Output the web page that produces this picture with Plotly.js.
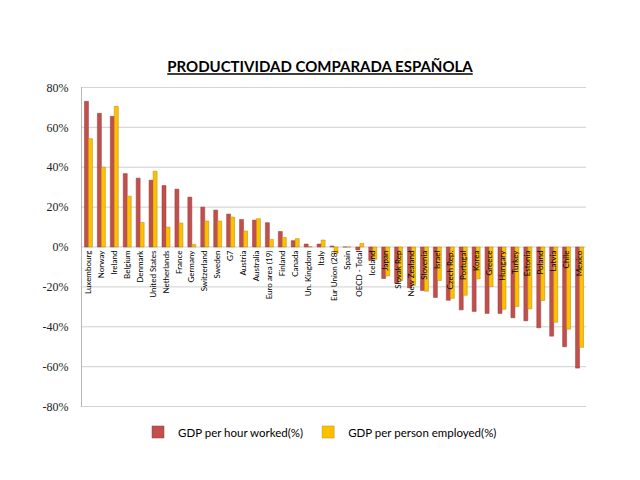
<!DOCTYPE html>
<html>
<head>
<meta charset="utf-8">
<script src="https://cdn.plot.ly/plotly-3.0.1.min.js"></script>
<style>html,body{margin:0;padding:0;background:#fff;}#chart{width:640px;height:480px;}</style>
</head>
<body>
<div id="chart"></div>
<script>
const countries = ["Luxembourg","Norway","Ireland","Belgium","Denmark","United States","Netherlands","France","Germany","Switzerland","Sweden","G7","Austria","Australia","Euro area (19)","Finland","Canada","Un. Kingdom","Italy","Eur Union (28)","Spain","OECD - Total","Iceland","Japan","Slovak Rep","New Zealand","Slovenia","Israel","Czech Rep.","Portugal","Korea","Greece","Hungary","Turkey","Estonia","Poland","Latvia","Chile","Mexico"];
const gdpPerHour = [73, 67, 65.5, 36.8, 34.5, 33.5, 30.8, 29, 25, 20, 18.5, 16.5, 13.8, 13.5, 12.2, 7.8, 3.2, 1.5, 1.5, 0.5, 0, -1.5, -6.8, -15.8, -18.2, -20.5, -21.8, -25.3, -26.7, -31.5, -32.3, -33.3, -33.3, -35.5, -37, -40.5, -44.7, -50, -60.7];
const gdpPerPerson = [54.3, 40, 70.5, 25.5, 12.3, 38, 10, 12, 1.3, 13, 13, 15, 8, 14.2, 3.8, 4.8, 4.2, 0.2, 3.5, -3.2, 0, 1.8, -6.2, -14.5, -16.8, -19.2, -22.2, -16.8, -25.7, -24.2, -16, -19.8, -31.2, -29.8, -31, -26.8, -37.7, -41.2, -50.3];
const yTicks = [-80, -60, -40, -20, 0, 20, 40, 60, 80];
const yTickText = yTicks.map(v => v + "%");

const traces = [
  {type: "bar", name: "GDP per hour worked(%)", x: countries, y: gdpPerHour,
   marker: {color: "#C0504D", line: {color: "#9b3a38", width: 0.5}}, hoverinfo: "skip"},
  {type: "bar", name: "GDP per person employed(%)", x: countries, y: gdpPerPerson,
   marker: {color: "#FFC000", line: {color: "#b08a10", width: 0.5}}, hoverinfo: "skip"}
];

const gridShapes = yTicks.map(v => ({type: "line", xref: "paper", yref: "y", x0: 0, x1: 1, y0: v, y1: v,
  line: {color: "#cfcfcf", width: 1}, layer: "below"}));

const layout = {
  width: 640, height: 480,
  paper_bgcolor: "#fff", plot_bgcolor: "#fff",
  margin: {l: 82, r: 54, t: 87, b: 73, pad: 0},
  title: {text: "<b><u>PRODUCTIVIDAD COMPARADA ESPAÑOLA</u></b>", font: {family: "Lato", size: 15, color: "#000"},
          x: 0.5, xanchor: "center", xref: "container", y: 1 - 67/480, yanchor: "middle", yref: "container"},
  barmode: "group", bargap: 0.38, bargroupgap: 0,
  showlegend: true,
  legend: {orientation: "h", x: 0.5, xanchor: "center", xref: "container", y: 1 - 432/480, yanchor: "middle", yref: "container",
           font: {family: "Lato", size: 11.5, color: "#000"}, itemwidth: 30, traceorder: "normal"},
  shapes: gridShapes,
  xaxis: {anchor: "free", position: 0.5, type: "category", tickangle: -90, showgrid: false, showline: false,
          ticks: "", tickfont: {family: "Lato", size: 8, color: "#000"}, ticklabelstandoff: 1, layer: "above traces",
          fixedrange: true},
  yaxis: {range: [-80.2, 80.2], tickvals: yTicks, ticktext: yTickText, showgrid: false,
          zeroline: false, showline: true, linecolor: "#b8b8b8", linewidth: 1, ticks: "",
          tickfont: {family: "Liberation Serif, Times New Roman, serif", size: 12, color: "#222"}, ticklabelstandoff: 10, fixedrange: true}
};

Plotly.newPlot("chart", traces, layout, {displayModeBar: false, staticPlot: true});
</script>
</body>
</html>
